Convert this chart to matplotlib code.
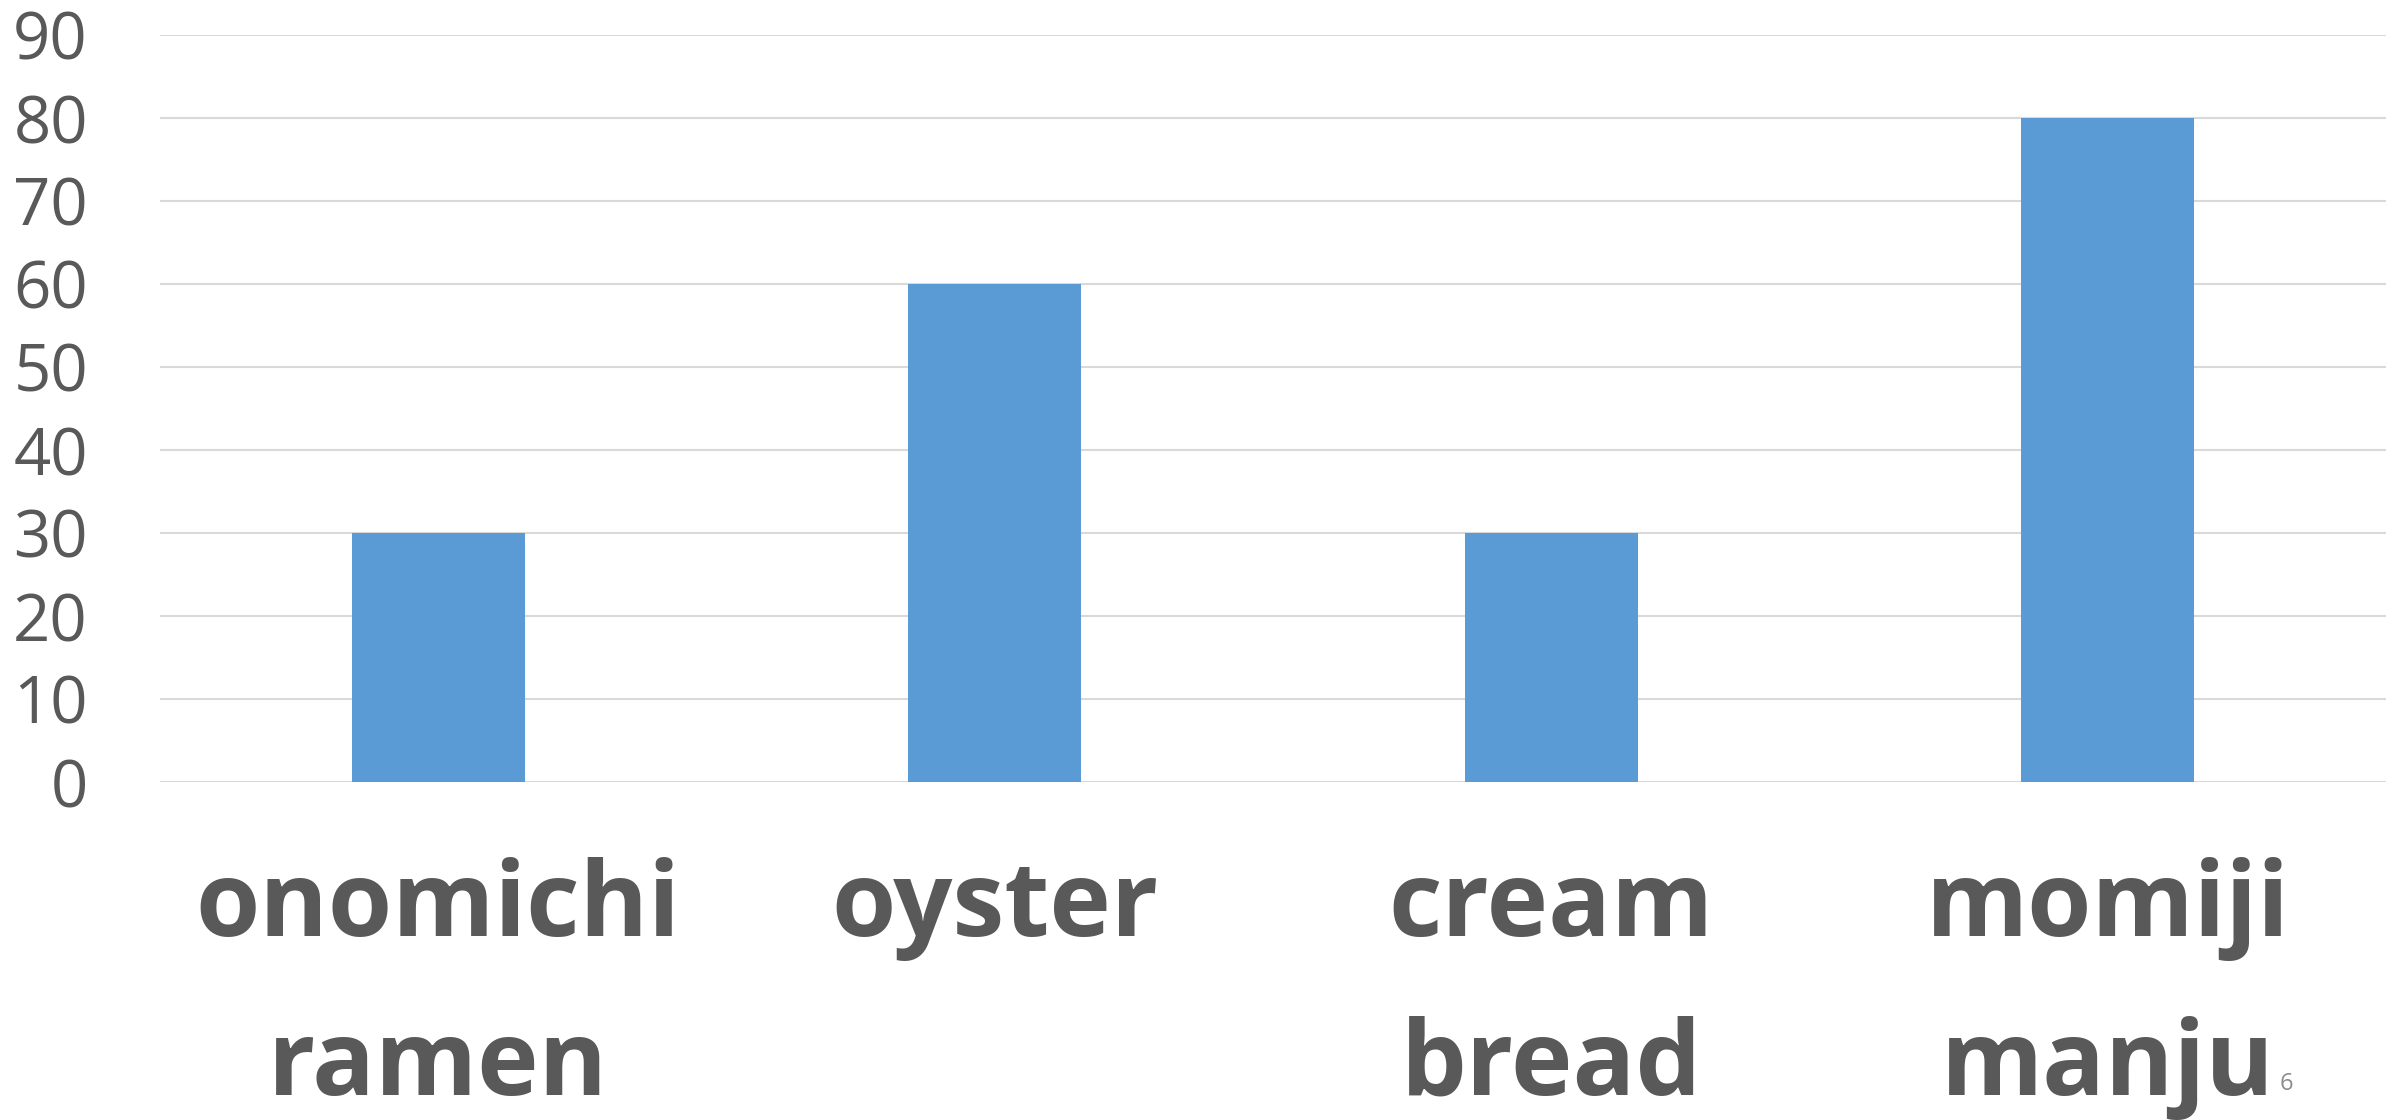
import matplotlib
matplotlib.use("Agg")
import matplotlib.pyplot as plt
import numpy as np

categories = ["onomichi\nramen", "oyster", "cream\nbread", "momiji\nmanju"]
values = [30, 60, 30, 80]
yticks = [0, 10, 20, 30, 40, 50, 60, 70, 80, 90]
slide_number = "6"

W, H, DPI = 2408, 1120, 100
PX = 72 / DPI  # points per pixel
fig = plt.figure(figsize=(W / DPI, H / DPI), dpi=DPI)
fig.patch.set_facecolor("white")

left, right, top, bottom = 160, 2386, 35, 782
ax = fig.add_axes([left / W, 1 - bottom / H, (right - left) / W, (bottom - top) / H])

x = np.arange(len(categories))
ax.bar(x, values, width=0.31, color="#5B9BD5", zorder=3)

ax.set_xlim(-0.5, len(categories) - 0.5)
ax.set_ylim(0, 90)
ax.set_yticks(yticks)
ax.set_yticklabels([str(v) for v in yticks], fontsize=47, color="#595959",
                   family="Open Sans")
ax.tick_params(axis="y", length=0, pad=72 * PX)
ax.yaxis.grid(True, color="#d9d9d9", linewidth=1.5, zorder=0)
for s in ax.spines.values():
    s.set_visible(False)

ax.set_xticks(x)
ax.set_xticklabels(categories, fontsize=75, fontweight="bold", color="#595959",
                   family="Open Sans", linespacing=1.69)
ax.tick_params(axis="x", length=0, pad=54)

fig.text(2280 / W, 1 - 1090 / H, slide_number, fontsize=17, color="#8c8c8c",
         family="Open Sans", ha="left", va="baseline")

fig.savefig("out.png", dpi=DPI, facecolor="white")
